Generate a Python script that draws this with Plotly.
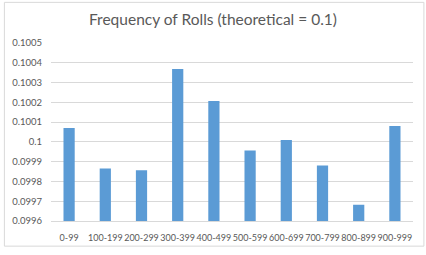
import plotly.graph_objects as go

categories = ["0-99", "100-199", "200-299", "300-399", "400-499",
              "500-599", "600-699", "700-799", "800-899", "900-999"]
frequencies = [0.100070, 0.099866, 0.099857, 0.100368, 0.100207,
               0.099957, 0.100010, 0.099880, 0.099682, 0.100080]
y_tick_values = [0.0996, 0.0997, 0.0998, 0.0999, 0.1, 0.1001,
                 0.1002, 0.1003, 0.1004, 0.1005]
y_tick_labels = ["0.0996", "0.0997", "0.0998", "0.0999", "0.1", "0.1001",
                 "0.1002", "0.1003", "0.1004", "0.1005"]

W, H = 426, 255
ml, mr, mt, mb = 48, 13, 43, 28
pw, ph = W - ml - mr, H - mt - mb

fig = go.Figure(go.Bar(
    x=categories, y=frequencies,
    marker=dict(color="#5B9BD5", line=dict(width=0)),
    width=0.31,
))

fig.update_layout(
    width=W, height=H,
    margin=dict(l=ml, r=mr, t=mt, b=mb),
    paper_bgcolor="white", plot_bgcolor="white",
    font=dict(family="Liberation Sans", color="#595959", size=10),
    title=dict(text="Frequency of Rolls (theoretical = 0.1)",
               x=0.5, xanchor="center", xref="container",
               y=1 - 20 / H, yanchor="middle", yref="container",
               font=dict(family="Lato", size=15.5, color="#595959")),
    showlegend=False,
)
fig.update_xaxes(showgrid=False, showline=True, linecolor="#D9D9D9", linewidth=1,
                 ticks="", tickangle=0, ticklabelstandoff=8,
                 tickfont=dict(family="Lato", size=9, color="#595959"))
fig.update_yaxes(range=[0.0996, 0.1005], tickvals=y_tick_values, ticktext=y_tick_labels,
                 showgrid=True, gridcolor="#D9D9D9", gridwidth=1, zeroline=False,
                 ticks="", ticklabelstandoff=8,
                 tickfont=dict(family="Lato", size=9.5, color="#595959"))

fig.add_shape(type="rect", xref="paper", yref="paper",
              x0=(1 - ml) / pw, x1=(424 - ml) / pw,
              y0=(2 - mb) / ph, y1=(254 - mb) / ph,
              line=dict(color="#D9D9D9", width=1), fillcolor="rgba(0,0,0,0)", layer="below")

fig.write_html("out.html")
